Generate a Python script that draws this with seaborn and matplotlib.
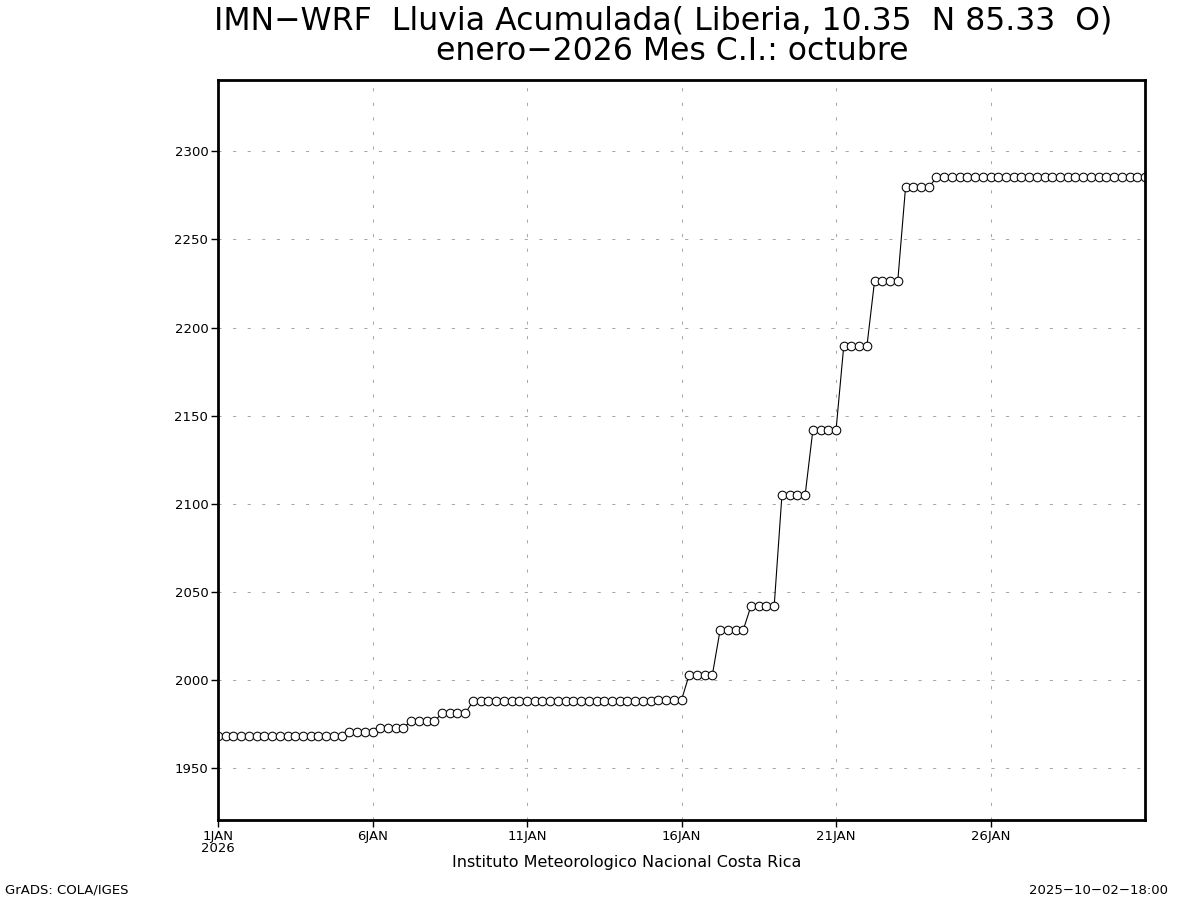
import numpy as np
import pandas as pd
import seaborn as sns
import matplotlib.pyplot as plt

# 6-hourly accumulated rainfall (mm), 1JAN 00Z .. 31JAN 00Z
# first value, then 4 values per day (06Z, 12Z, 18Z, 00Z next day)
lluvia = [1968.0,
          1968.0, 1968.0, 1968.0, 1968.0,   # 1 ene
          1968.0, 1968.0, 1968.0, 1968.0,   # 2 ene
          1968.0, 1968.0, 1968.0, 1968.0,   # 3 ene
          1968.0, 1968.0, 1968.0, 1968.0,   # 4 ene
          1970.5, 1970.5, 1970.5, 1970.5,   # 5 ene
          1973.0, 1973.0, 1973.0, 1973.0,   # 6 ene
          1976.5, 1976.5, 1976.5, 1976.5,   # 7 ene
          1981.0, 1981.0, 1981.0, 1981.0,   # 8 ene
          1987.8, 1987.8, 1987.8, 1987.8,   # 9 ene
          1987.8, 1987.8, 1987.8, 1987.8,   # 10 ene
          1987.8, 1987.8, 1987.8, 1987.8,   # 11 ene
          1987.8, 1987.8, 1987.8, 1987.8,   # 12 ene
          1988.0, 1988.0, 1988.0, 1988.0,   # 13 ene
          1988.2, 1988.2, 1988.2, 1988.2,   # 14 ene
          1988.6, 1988.6, 1988.6, 1988.6,   # 15 ene
          2003.0, 2003.0, 2003.0, 2003.0,   # 16 ene
          2028.4, 2028.4, 2028.4, 2028.4,   # 17 ene
          2042.1, 2042.1, 2042.1, 2042.1,   # 18 ene
          2104.8, 2104.8, 2104.8, 2104.8,   # 19 ene
          2141.6, 2141.6, 2141.6, 2141.6,   # 20 ene
          2189.4, 2189.4, 2189.4, 2189.4,   # 21 ene
          2226.7, 2226.7, 2226.7, 2226.7,   # 22 ene
          2279.5, 2279.5, 2279.5, 2279.5,   # 23 ene
          2285.2, 2285.2, 2285.2, 2285.2,   # 24 ene
          2285.2, 2285.2, 2285.2, 2285.2,   # 25 ene
          2285.2, 2285.2, 2285.2, 2285.2,   # 26 ene
          2285.2, 2285.2, 2285.2, 2285.2,   # 27 ene
          2285.2, 2285.2, 2285.2, 2285.2,   # 28 ene
          2285.2, 2285.2, 2285.2, 2285.2,   # 29 ene
          2285.2, 2285.2, 2285.2, 2285.2]   # 30 ene
fechas = pd.date_range('2026-01-01 00:00', periods=len(lluvia), freq='6h')

xticks = pd.to_datetime(['2026-01-01', '2026-01-06', '2026-01-11',
                         '2026-01-16', '2026-01-21', '2026-01-26'])
xticklabels = ['1JAN\n2026', '6JAN', '11JAN', '16JAN', '21JAN', '26JAN']
yticks = [1950, 2000, 2050, 2100, 2150, 2200, 2250, 2300]

df = pd.DataFrame({'fecha': fechas, 'lluvia': lluvia})

sns.set_style('white')
plt.rcParams['font.family'] = ['DejaVu Sans']
plt.rcParams['text.color'] = 'black'
plt.rcParams['xtick.color'] = 'black'
plt.rcParams['ytick.color'] = 'black'

fig = plt.figure(figsize=(12, 9), dpi=100)
ax = fig.add_axes([218/1200, 1-820/900, (1145-218)/1200, (820-80)/900])

ax.grid(True, color='#a8a8a8', linestyle=(0, (3, 11)), linewidth=0.75)
sns.lineplot(data=df, x='fecha', y='lluvia', ax=ax, color='black',
             linewidth=0.8, marker='o', markersize=6.2,
             markerfacecolor='white', markeredgecolor='black',
             markeredgewidth=0.75, clip_on=True, zorder=3)

ax.set_xlim(fechas[0], fechas[-1])
ax.set_ylim(1920.5, 2340.5)
ax.set_xticks(xticks)
ax.set_xticklabels(xticklabels, fontsize=9.5, linespacing=0.9)
ax.set_yticks(yticks)
ax.set_yticklabels([str(v) for v in yticks], fontsize=9.5)
ax.tick_params(axis='both', direction='out', length=5, width=1,
               color='black', labelcolor='black', pad=2, bottom=True, left=True)
ax.set_xlabel('')
ax.set_ylabel('')
for s in ax.spines.values():
    s.set_color('black')
    s.set_linewidth(2)
    s.set_zorder(4)

fig.text(663/1200, 1-21/900, 'IMN\u2212WRF  Lluvia Acumulada( Liberia, 10.35  N 85.33  O)',
         ha='center', va='center', fontsize=22.7, color='black')
fig.text(672/1200, 1-52/900, 'enero\u22122026 Mes C.I.: octubre',
         ha='center', va='center', fontsize=22.7, color='black')
fig.text(627/1200, 1-863/900, 'Instituto Meteorologico Nacional Costa Rica',
         ha='center', va='center', fontsize=11.5, color='black')
fig.text(5/1200, 1-890/900, 'GrADS: COLA/IGES', ha='left', va='center',
         fontsize=9.5, color='black')
fig.text(1168/1200, 1-890/900, '2025\u221210\u221202\u221218:00', ha='right',
         va='center', fontsize=9.5, color='black')

fig.savefig('out.png', dpi=100, facecolor='white')
